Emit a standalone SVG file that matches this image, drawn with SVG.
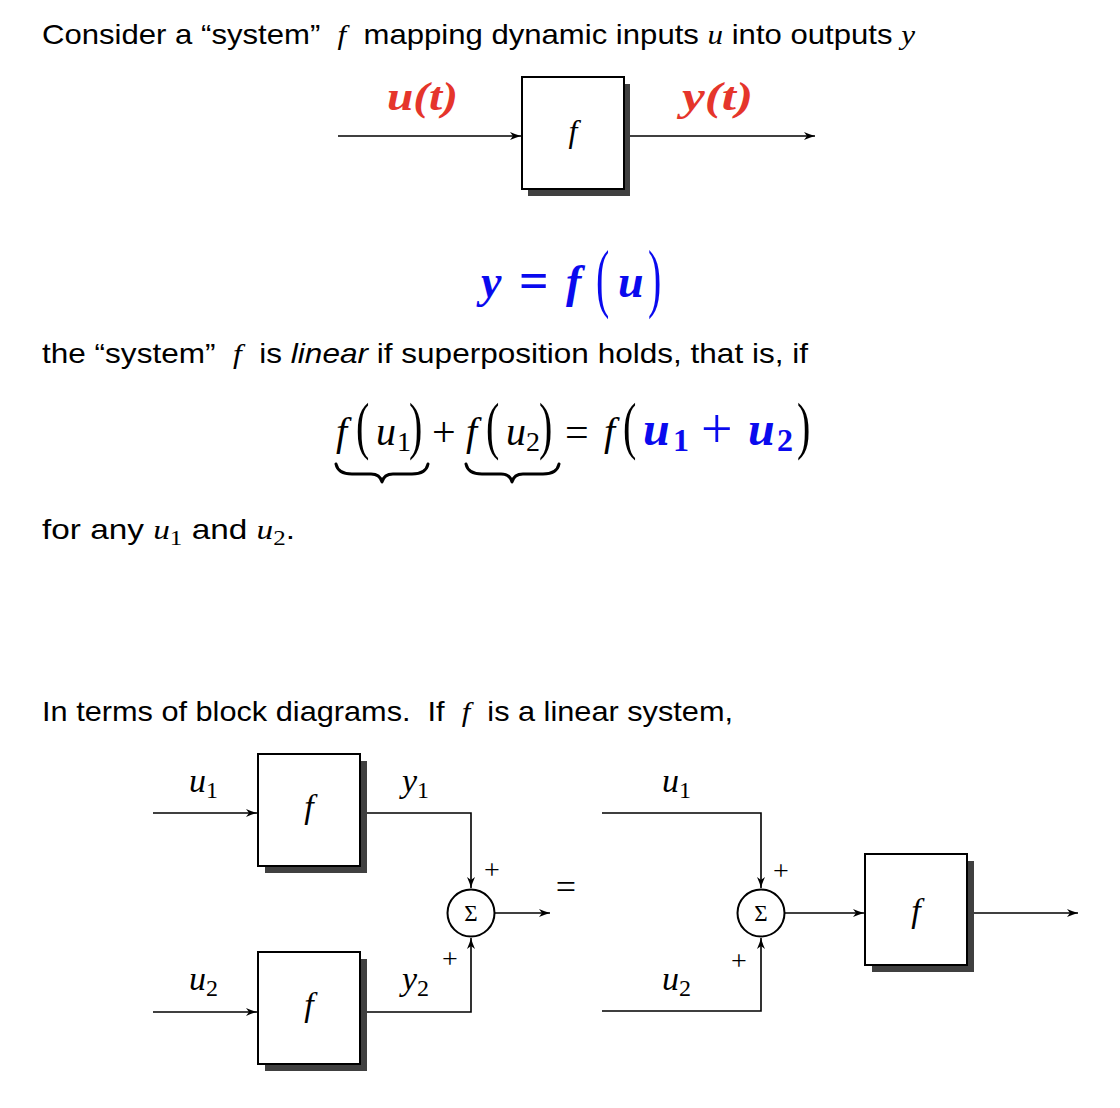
<svg xmlns="http://www.w3.org/2000/svg" width="1120" height="1108" viewBox="0 0 1120 1108">
<style>
.t{font-family:"Liberation Sans",Arial,sans-serif;font-size:28px;fill:#000}
.m{font-family:"Liberation Serif","Times New Roman",serif;font-style:italic}
.r{font-family:"Liberation Serif","Times New Roman",serif;font-style:normal}
.it{font-style:italic}
.box{fill:#fff;stroke:#000;stroke-width:2}
.sh{fill:#404040;stroke:none}
.ln{fill:none;stroke:#000;stroke-width:1.6}
.brace{fill:none;stroke:#000;stroke-width:3;stroke-linejoin:round;stroke-linecap:round}
.red{fill:#e5352b;font-weight:bold}
.blue{fill:#0a0aee}
.bb{font-weight:bold}
</style>
<defs>
<marker id="ah" markerUnits="userSpaceOnUse" markerWidth="14" markerHeight="10" refX="11" refY="4.5" orient="auto">
<path d="M0,0.5 Q6,3.2 11,4.5 Q6,5.8 0,8.5 L3,4.5 Z" fill="#000"/>
</marker>
</defs>
<rect width="1120" height="1108" fill="#fff"/>

<!-- paragraph texts -->
<text class="t" x="42" y="44" textLength="873" lengthAdjust="spacingAndGlyphs">Consider a “system”&#160; <tspan class="m">f</tspan>&#160; mapping dynamic inputs <tspan class="m">u</tspan> into outputs <tspan class="m">y</tspan></text>
<text class="t" x="42" y="363" textLength="766" lengthAdjust="spacingAndGlyphs">the “system”&#160; <tspan class="m">f</tspan>&#160; is <tspan class="it">linear</tspan> if superposition holds, that is, if</text>
<text class="t" x="42" y="539" textLength="253" lengthAdjust="spacingAndGlyphs">for any <tspan class="m">u</tspan><tspan class="r" font-size="21" dy="6">1</tspan><tspan dy="-6"> and </tspan><tspan class="m">u</tspan><tspan class="r" font-size="21" dy="6">2</tspan><tspan dy="-6">.</tspan></text>
<text class="t" x="42" y="721" textLength="691" lengthAdjust="spacingAndGlyphs">In terms of block diagrams.&#160; If&#160; <tspan class="m">f</tspan>&#160; is a linear system,</text>

<!-- top system -->
<g id="top-connectors">
<line class="ln" x1="338" y1="136" x2="521" y2="136" marker-end="url(#ah)"/>
<line class="ln" x1="624" y1="136" x2="815" y2="136" marker-end="url(#ah)"/>
</g>
<g id="top-f">
<rect class="sh" x="528" y="84" width="102" height="112"/>
<rect class="box" x="522" y="77" width="102" height="112"/>
<text class="m" x="573" y="142" font-size="32" text-anchor="middle">f</text>
</g>
<text class="m red" x="387" y="110" font-size="40" textLength="71" lengthAdjust="spacingAndGlyphs">u(t)</text>
<text class="m red" x="682" y="110" font-size="40" textLength="71" lengthAdjust="spacingAndGlyphs">y(t)</text>

<!-- y = f(u) -->
<g id="eq1" class="blue">
<text class="m bb" x="481" y="297" font-size="46">y</text>
<text class="r bb" x="519" y="298" font-size="52">=</text>
<text class="m bb" x="566" y="297" font-size="46">f</text>
<text class="r" transform="translate(596,285) scale(1,1.9)" y="9.6" font-size="40">(</text>
<text class="m bb" x="618" y="297" font-size="46">u</text>
<text class="r" transform="translate(648,285) scale(1,1.9)" y="9.6" font-size="40">)</text>
</g>

<!-- superposition equation -->
<g id="eq2">
<text class="m" x="336" y="445" font-size="40">f</text>
<text class="r" transform="translate(356,432) scale(1,1.6)" y="9.6" font-size="40">(</text>
<text class="m" x="376" y="445" font-size="40">u</text>
<text class="r" x="397" y="451" font-size="28">1</text>
<text class="r" transform="translate(409,432) scale(1,1.6)" y="9.6" font-size="40">)</text>
<text class="r" x="432" y="446" font-size="42">+</text>
<text class="m" x="466" y="445" font-size="40">f</text>
<text class="r" transform="translate(486,432) scale(1,1.6)" y="9.6" font-size="40">(</text>
<text class="m" x="506" y="445" font-size="40">u</text>
<text class="r" x="526" y="451" font-size="28">2</text>
<text class="r" transform="translate(539,432) scale(1,1.6)" y="9.6" font-size="40">)</text>
<text class="r" x="565" y="446" font-size="42">=</text>
<text class="m" x="604" y="445" font-size="40">f</text>
<text class="r" transform="translate(623,432) scale(1,1.6)" y="9.6" font-size="40">(</text>
<text class="m bb blue" x="643" y="445" font-size="48">u</text>
<text class="r bb blue" x="673" y="451" font-size="32">1</text>
<text class="r blue" x="701" y="448" font-size="56">+</text>
<text class="m bb blue" x="748" y="445" font-size="48">u</text>
<text class="r bb blue" x="777" y="451" font-size="32">2</text>
<text class="r" transform="translate(797,432) scale(1,1.6)" y="9.6" font-size="40">)</text>
<path class="brace" d="M336,464 Q338,474 352,474 L371,474 Q380,474 382,482 Q384,474 393,474 L412,474 Q426,474 428,464"/>
<path class="brace" d="M466,464 Q468,474 482,474 L501,474 Q510,474 512,482 Q514,474 523,474 L543,474 Q557,474 559,464"/>
</g>

<!-- bottom diagrams: connectors -->
<g id="connectors">
<line class="ln" x1="153" y1="813" x2="257" y2="813" marker-end="url(#ah)"/>
<line class="ln" x1="153" y1="1012" x2="257" y2="1012" marker-end="url(#ah)"/>
<path class="ln" d="M361,813 H471 V888" marker-end="url(#ah)"/>
<path class="ln" d="M361,1012 H471 V938" marker-end="url(#ah)"/>
<line class="ln" x1="495" y1="913" x2="550" y2="913" marker-end="url(#ah)"/>
<path class="ln" d="M602,813 H761 V888" marker-end="url(#ah)"/>
<path class="ln" d="M602,1011 H761 V938" marker-end="url(#ah)"/>
<line class="ln" x1="785" y1="913" x2="864" y2="913" marker-end="url(#ah)"/>
<line class="ln" x1="968" y1="913" x2="1078" y2="913" marker-end="url(#ah)"/>
</g>

<g id="f1">
<rect class="sh" x="265" y="761" width="102" height="112"/>
<rect class="box" x="258" y="754" width="102" height="112"/>
<text class="m" x="309" y="818" font-size="34" text-anchor="middle">f</text>
</g>
<g id="f2">
<rect class="sh" x="265" y="959" width="102" height="112"/>
<rect class="box" x="258" y="952" width="102" height="112"/>
<text class="m" x="309" y="1016" font-size="34" text-anchor="middle">f</text>
</g>
<g id="sum1">
<circle cx="471" cy="913" r="23.5" fill="#fff" stroke="#000" stroke-width="2"/>
<text class="r" x="471" y="921" font-size="23" text-anchor="middle">Σ</text>
</g>
<g id="labels-left">
<text class="m" x="189" y="792" font-size="34">u<tspan class="r" font-size="24" dy="6">1</tspan></text>
<text class="m" x="189" y="990" font-size="34">u<tspan class="r" font-size="24" dy="6">2</tspan></text>
<text class="m" x="402" y="792" font-size="34">y<tspan class="r" font-size="24" dy="6">1</tspan></text>
<text class="m" x="402" y="990" font-size="34">y<tspan class="r" font-size="24" dy="6">2</tspan></text>
<text class="r" x="492" y="879" font-size="28" text-anchor="middle">+</text>
<text class="r" x="450" y="968" font-size="28" text-anchor="middle">+</text>
<text class="r" x="566" y="899" font-size="36" text-anchor="middle">=</text>
</g>

<g id="sum2">
<circle cx="761" cy="913" r="23.5" fill="#fff" stroke="#000" stroke-width="2"/>
<text class="r" x="761" y="921" font-size="23" text-anchor="middle">Σ</text>
</g>
<g id="f3">
<rect class="sh" x="872" y="861" width="102" height="111"/>
<rect class="box" x="865" y="854" width="102" height="111"/>
<text class="m" x="916" y="922" font-size="34" text-anchor="middle">f</text>
</g>
<g id="labels-right">
<text class="m" x="662" y="792" font-size="34">u<tspan class="r" font-size="24" dy="6">1</tspan></text>
<text class="m" x="662" y="990" font-size="34">u<tspan class="r" font-size="24" dy="6">2</tspan></text>
<text class="r" x="781" y="880" font-size="28" text-anchor="middle">+</text>
<text class="r" x="739" y="970" font-size="28" text-anchor="middle">+</text>
</g>
</svg>
